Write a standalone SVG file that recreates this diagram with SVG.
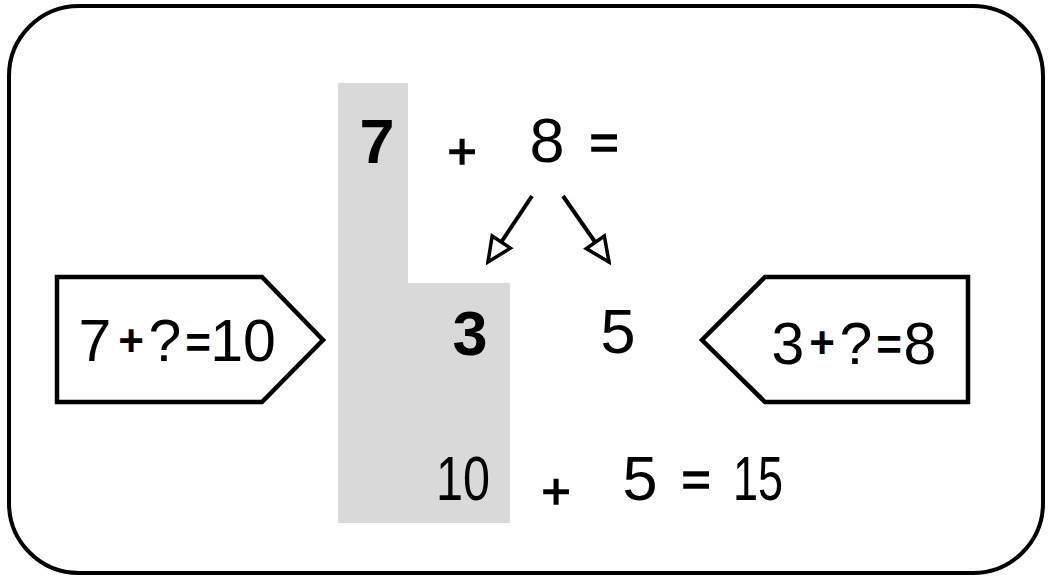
<svg xmlns="http://www.w3.org/2000/svg" width="1052" height="580" viewBox="0 0 1052 580">
  <defs>
    <marker id="open" viewBox="0 0 32 32" refX="29" refY="16" markerWidth="32" markerHeight="32" markerUnits="userSpaceOnUse" orient="auto">
      <path d="M5,5 L29,16 L5,27 Z" fill="#fff" stroke="#000" stroke-width="3.5" stroke-linejoin="miter"/>
    </marker>
  </defs>
  <style>
    .t { font-family: "Liberation Sans", "DejaVu Sans", sans-serif; fill: #000; text-anchor: middle; }
    .d { font-size: 63px; }
    .b { font-weight: bold; }
    .op { font-size: 50px; stroke: #000; stroke-width: 1.5; }
    .bop { font-size: 44px; font-weight: bold; }
    .box { fill: #fff; stroke: #000; stroke-width: 4.5; stroke-linejoin: miter; }
    .conn { stroke: #000; stroke-width: 4; fill: none; }
  </style>
  <rect x="0" y="0" width="1052" height="580" fill="#fff"/>
  <rect id="frame" x="9" y="6" width="1034" height="567" rx="70" ry="70" fill="none" stroke="#000" stroke-width="4"/>

  <g id="shade">
    <path d="M338,83 L408,83 L408,283 L510,283 L510,523 L338,523 Z" fill="#d9d9d9"/>
  </g>

  <g id="top-row">
    <text class="t d b" x="377" y="163">7</text>
    <text class="t op" x="462" y="168">+</text>
    <text class="t d" x="547" y="162">8</text>
    <text class="t op" x="604" y="159">=</text>
  </g>

  <g id="connectors">
    <line class="conn" x1="532" y1="196" x2="488" y2="262" marker-end="url(#open)"/>
    <line class="conn" x1="563" y1="196" x2="609" y2="262" marker-end="url(#open)"/>
  </g>

  <g id="split">
    <text class="t d b" x="470" y="355">3</text>
    <text class="t d" x="618" y="353">5</text>
  </g>

  <g id="bottom-row">
    <text class="t d" x="463" y="500" textLength="54" lengthAdjust="spacingAndGlyphs">10</text>
    <text class="t op" x="556" y="508">+</text>
    <text class="t d" x="640" y="500">5</text>
    <text class="t op" x="696" y="496">=</text>
    <text class="t d" x="758" y="500" textLength="50" lengthAdjust="spacingAndGlyphs">15</text>
  </g>

  <g id="left-box">
    <path class="box" d="M57,277 L262,277 L323,340 L262,402 L57,402 Z"/>
    <text class="t" font-size="59"><tspan x="95" y="361">7</tspan><tspan x="131" y="356" class="bop">+</tspan><tspan x="165" y="361">?</tspan><tspan x="198" y="358" class="bop">=</tspan><tspan x="243" y="361">10</tspan></text>
  </g>

  <g id="right-box">
    <path class="box" d="M968,277 L765,277 L702,340 L765,402 L968,402 Z"/>
    <text class="t" font-size="59"><tspan x="788" y="364">3</tspan><tspan x="822" y="358" class="bop">+</tspan><tspan x="856" y="364">?</tspan><tspan x="889" y="360" class="bop">=</tspan><tspan x="920" y="364">8</tspan></text>
  </g>
</svg>
